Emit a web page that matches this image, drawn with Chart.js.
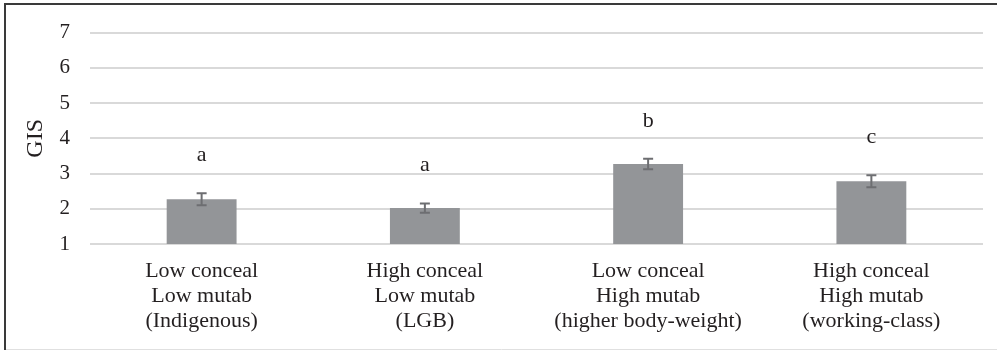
<!DOCTYPE html>
<html>
<head>
<meta charset="utf-8">
<script src="https://cdn.jsdelivr.net/npm/chart.js@4"></script>
<style>
html,body{margin:0;padding:0;background:#fff;}
#wrap{position:relative;width:997px;height:350px;}
</style>
</head>
<body>
<div id="wrap"><canvas id="c" width="997" height="350"></canvas></div>
<script>
const categories = [
  ['Low conceal', 'Low mutab', '(Indigenous)'],
  ['High conceal', 'Low mutab', '(LGB)'],
  ['Low conceal', 'High mutab', '(higher body-weight)'],
  ['High conceal', 'High mutab', '(working-class)']
];
const gisMeans = [2.27, 2.02, 3.27, 2.78];
const gisErrors = [0.17, 0.13, 0.15, 0.17];
const groupLetters = ['a', 'a', 'b', 'c'];
const yTicks = [1, 2, 3, 4, 5, 6, 7];

const serif = "'Liberation Serif', 'Times New Roman', serif";
const textColor = '#231f20';

const extrasPlugin = {
  id: 'extras',
  beforeDraw(chart) {
    const ctx = chart.ctx;
    ctx.save();
    ctx.fillStyle = '#fff';
    ctx.fillRect(0, 0, chart.width, chart.height);
    ctx.restore();
  },
  afterDatasetsDraw(chart) {
    const ctx = chart.ctx;
    const meta = chart.getDatasetMeta(0);
    const y = chart.scales.y;
    ctx.save();
    meta.data.forEach((bar, i) => {
      const top = y.getPixelForValue(gisMeans[i] + gisErrors[i]);
      const bot = y.getPixelForValue(gisMeans[i] - gisErrors[i]);
      const x = bar.x;
      ctx.strokeStyle = '#6d6e71';
      ctx.lineWidth = 2;
      ctx.beginPath();
      ctx.moveTo(x, top); ctx.lineTo(x, bot);
      ctx.moveTo(x - 5, top); ctx.lineTo(x + 5, top);
      ctx.moveTo(x - 5, bot); ctx.lineTo(x + 5, bot);
      ctx.stroke();
      ctx.fillStyle = textColor;
      ctx.font = '22px ' + serif;
      ctx.textAlign = 'center';
      ctx.textBaseline = 'middle';
      ctx.fillText(groupLetters[i], x, top - 38);
    });
    ctx.restore();
  },
  afterDraw(chart) {
    const ctx = chart.ctx;
    ctx.save();
    ctx.strokeStyle = '#3a3a3a';
    ctx.lineWidth = 2;
    ctx.beginPath();
    ctx.moveTo(5, 350); ctx.lineTo(5, 4); ctx.lineTo(997, 4);
    ctx.stroke();
    ctx.strokeStyle = '#e0e0e0';
    ctx.lineWidth = 1;
    ctx.beginPath();
    ctx.moveTo(6, 349.5); ctx.lineTo(997, 349.5);
    ctx.stroke();
    ctx.restore();
  }
};

new Chart(document.getElementById('c'), {
  type: 'bar',
  data: {
    labels: categories,
    datasets: [{
      data: gisMeans,
      backgroundColor: '#939598',
      borderWidth: 0,
      categoryPercentage: 1,
      barPercentage: 0.313
    }]
  },
  options: {
    responsive: false,
    animation: false,
    devicePixelRatio: 1,
    layout: { padding: { left: 0, right: 14, top: 30, bottom: 0 } },
    plugins: { legend: { display: false }, tooltip: { enabled: false } },
    scales: {
      x: {
        grid: { display: false, drawTicks: false },
        border: { display: false },
        ticks: {
          color: textColor,
          font: { family: serif, size: 22, lineHeight: 1.14 },
          padding: 15,
          maxRotation: 0,
          autoSkip: false
        },
        afterFit(scale) { scale.height = 106; }
      },
      y: {
        min: 1,
        max: 7,
        afterBuildTicks(scale) { scale.ticks = yTicks.map(v => ({ value: v })); },
        grid: { color: '#d9d9d9', lineWidth: 2, drawTicks: false },
        border: { display: false },
        ticks: {
          color: textColor,
          font: { family: serif, size: 21 },
          padding: 20
        },
        title: {
          display: true,
          text: 'GIS',
          color: textColor,
          font: { family: serif, size: 24 },
          padding: { top: 21, bottom: 0 }
        },
        afterFit(scale) { scale.width = 90; }
      }
    }
  },
  plugins: [extrasPlugin]
});
</script>
</body>
</html>
